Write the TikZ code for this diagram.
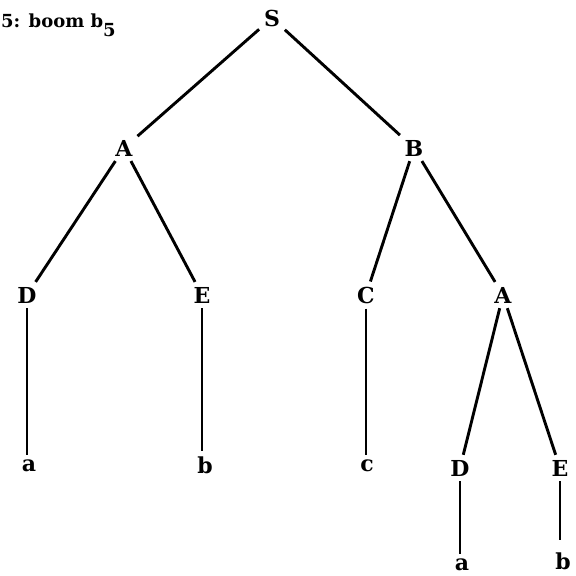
\documentclass[tikz,border=0pt]{standalone}
\usepackage{fontspec}
\setmainfont{DejaVu Serif}
\begin{document}
\begin{tikzpicture}[x=1pt,y=-1pt,
  lab/.style={font=\fontsize{22}{26}\selectfont\bfseries, inner sep=4pt},
  edge/.style={line width=2.9pt, shorten <=1pt, shorten >=1pt}]
\useasboundingbox[fill=white] (0,0) rectangle (576,576);
\node[anchor=base west, font=\fontsize{18}{22}\selectfont\bfseries, inner sep=0pt] (title) at (1,27) {5: boom b\raisebox{-9pt}{5}};
\node[lab] (S) at (272,18) {S};
\node[lab] (A) at (124,148) {A};
\node[lab] (B) at (414,148) {B};
\node[lab] (D) at (27,295) {D};
\node[lab] (E) at (202,295) {E};
\node[lab] (C) at (366,295) {C};
\node[lab] (A2) at (503,295) {A};
\node[lab] (a) at (29,466) {a};
\node[lab] (b) at (205,465) {b};
\node[lab] (c) at (367,466) {c};
\node[lab] (D2) at (460,468) {D};
\node[lab] (E2) at (560,468) {E};
\node[lab] (a2) at (462,565) {a};
\node[lab] (b2) at (563,561) {b};
\draw[edge] (S) -- (A);
\draw[edge] (S) -- (B);
\draw[edge] (A) -- (D);
\draw[edge] (A) -- (E);
\draw[edge] (B) -- (C);
\draw[edge] (B) -- (A2);
\draw[edge] (A2) -- (D2);
\draw[edge] (A2) -- (E2);
\draw[edge] (D.south) -- (D.south |- a.north);
\draw[edge] (E.south) -- (E.south |- b.north);
\draw[edge] (C.south) -- (C.south |- c.north);
\draw[edge] (D2.south) -- (D2.south |- a2.north);
\draw[edge, shorten >=8pt] (E2.south) -- (E2.south |- b2.north);
\end{tikzpicture}
\end{document}
